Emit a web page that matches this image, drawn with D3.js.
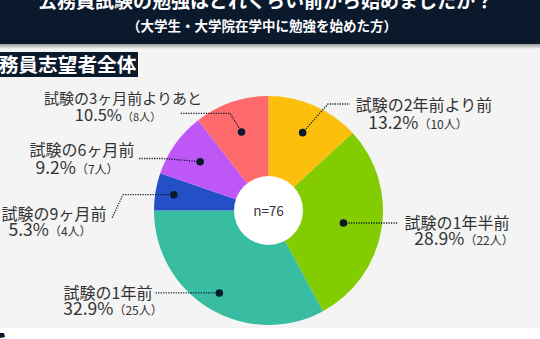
<!DOCTYPE html>
<html><head><meta charset="utf-8">
<script src="https://cdn.jsdelivr.net/npm/d3@7"></script>
<style>html,body{margin:0;padding:0;background:#fff;}svg{display:block;font-family:"Noto Sans CJK JP","Noto Sans",sans-serif;}</style>
</head><body>
<script>
const titleText = "公務員試験の勉強はどれくらい前から始めましたか？";
const subtitleText = "（大学生・大学院在学中に勉強を始めた方）";
const groupLabel = "公務員志望者全体";
const categories = ["試験の2年前より前","試験の1年半前","試験の1年前","試験の9ヶ月前","試験の6ヶ月前","試験の3ヶ月前よりあと"];
const counts = [10, 22, 25, 4, 7, 8];
const percents = ["13.2%","28.9%","32.9%","5.3%","9.2%","10.5%"];
const colors = ["#fcbf0b","#83cc02","#38bda3","#2350c6","#bf57f6","#fe6a6b"];
const totalLabel = "n=76";

// annotation layout (label anchor points, leader elbows)
const layout = [
  {dotR:85, elbow:[328,104], end:[350,104], x1:424, y1:111, x2:418, y2:129, fs:16},
  {dotR:76, elbow:null, end:[398,null], x1:457, y1:229, x2:464, y2:245, fs:16},
  {dotR:96, elbow:null, end:[155,null], x1:108, y1:299, x2:113, y2:315, fs:16},
  {dotR:96, elbow:[123,null], end:[112,218], x1:54, y1:220, x2:50, y2:236, fs:16},
  {dotR:84, elbow:[163,158.5], end:[138,158.5], x1:82, y1:156, x2:77, y2:174, fs:16},
  {dotR:83, elbow:[230,113.3], end:[180,113.3], x1:123, y1:104, x2:118, y2:121, fs:15}
];

const W = 540, H = 339;
const svg = d3.select("body").append("svg").attr("width", W).attr("height", H);
const navy = "#0b192d";

// background
svg.append("rect").attr("x",0).attr("y",0).attr("width",W).attr("height",H).attr("fill","#ffffff");
svg.append("rect").attr("x",0).attr("y",44).attr("width",W).attr("height",284).attr("fill","#f4f4f4");
const defs = svg.append("defs");
const g1 = defs.append("linearGradient").attr("id","sh").attr("x1",0).attr("y1",0).attr("x2",0).attr("y2",1);
g1.append("stop").attr("offset","0").attr("stop-color","#9a9a9a");
g1.append("stop").attr("offset","1").attr("stop-color","#f4f4f4");
svg.append("rect").attr("x",0).attr("y",44).attr("width",W).attr("height",5).attr("fill","url(#sh)");
svg.append("rect").attr("x",0).attr("y",0).attr("width",W).attr("height",44).attr("fill",navy);

svg.append("text").attr("x",266).attr("y",8).attr("text-anchor","middle")
  .attr("fill","#fff").attr("font-size",19).attr("font-weight","bold").text(titleText);
svg.append("text").attr("x",262).attr("y",31).attr("text-anchor","middle")
  .attr("fill","#fff").attr("font-size",13.5).attr("font-weight","bold").text(subtitleText);

// group label box
svg.append("rect").attr("x",-2).attr("y",52).attr("width",140).attr("height",25).attr("fill",navy);
svg.append("text").attr("x",136.5).attr("y",71.5).attr("text-anchor","end")
  .attr("fill","#fff").attr("font-size",19.7).attr("font-weight","bold").text(groupLabel);

// pie
const cx = 268.5, cy = 210.5, R = 114.5, r0 = 34.5;
const pie = d3.pie().value(d => d).sort(null);
const arcs = pie(counts);
const arc = d3.arc().innerRadius(0).outerRadius(R);
const gp = svg.append("g").attr("transform", `translate(${cx},${cy})`);
gp.selectAll("path.slice").data(arcs).join("path").attr("class","slice")
  .attr("d", arc).attr("fill", (d,i) => colors[i]);
gp.append("circle").attr("r", r0).attr("fill","#ffffff");
gp.append("text").attr("y",5).attr("text-anchor","middle").attr("fill","#333")
  .attr("font-size",13.5).text(totalLabel);

// leaders + labels
arcs.forEach((a,i) => {
  const L = layout[i];
  const c = d3.arc().innerRadius(L.dotR).outerRadius(L.dotR).centroid(a);
  const dot = [cx + c[0], cy + c[1]];
  const pts = [dot];
  if (L.elbow) pts.push([L.elbow[0], L.elbow[1] == null ? dot[1] : L.elbow[1]]);
  pts.push([L.end[0], L.end[1] == null ? dot[1] : L.end[1]]);
  svg.append("path").attr("d", d3.line()(pts)).attr("fill","none")
    .attr("stroke", navy).attr("stroke-width",1.3).attr("stroke-dasharray","1.2,1.3");
  svg.append("circle").attr("cx",dot[0]).attr("cy",dot[1]).attr("r",3.8).attr("fill",navy);

  svg.append("text").attr("x",L.x1).attr("y",L.y1).attr("text-anchor","middle")
    .attr("fill","#333").attr("font-size",L.fs).text(categories[i]);
  const t2 = svg.append("text").attr("x",L.x2).attr("y",L.y2).attr("text-anchor","middle").attr("fill","#333");
  t2.append("tspan").attr("font-size",L.fs+1.5).text(percents[i]);
  t2.append("tspan").attr("font-size",L.fs-4).text(`（${counts[i]}人）`);
});

// small footer icon fragment
svg.append("path").attr("d","M0,333 L4,333 L5,337 L0,338 Z").attr("fill",navy);
</script>
</body></html>
